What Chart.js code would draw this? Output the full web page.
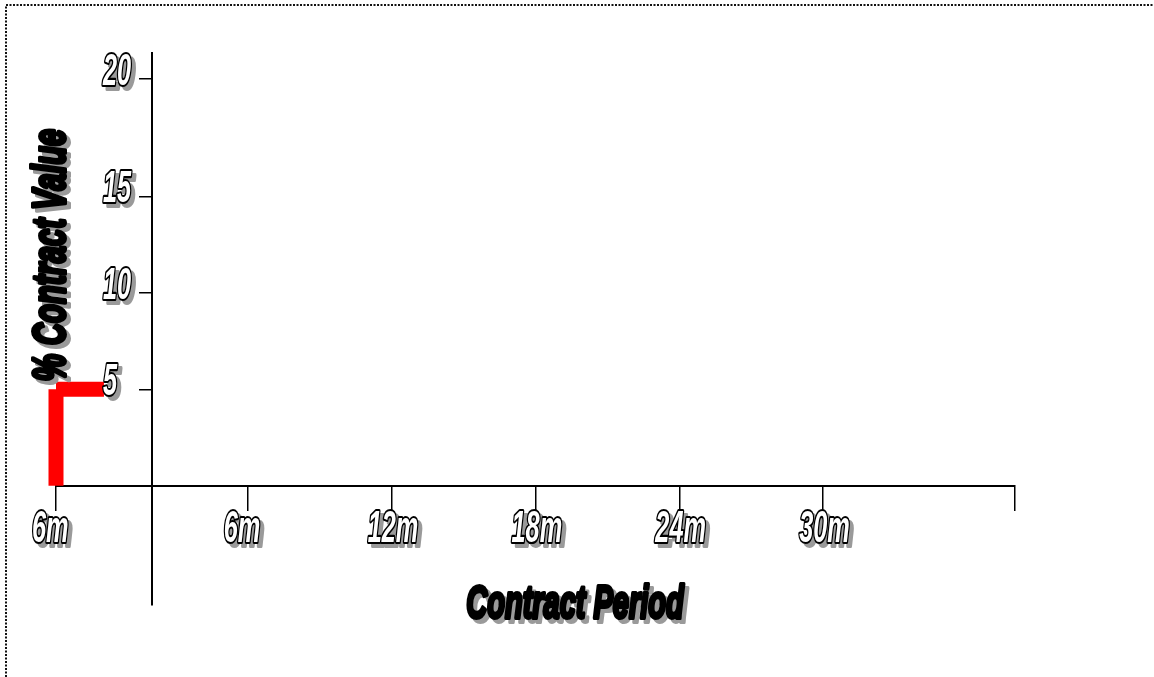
<!DOCTYPE html>
<html>
<head>
<meta charset="utf-8">
<script src="https://cdn.jsdelivr.net/npm/chart.js@4.4.0/dist/chart.umd.min.js"></script>
<style>
  html, body { margin: 0; padding: 0; background: #fff; }
  canvas { display: block; }
</style>
</head>
<body>
<canvas id="chart" width="1154" height="677"></canvas>
<script>
// Retention held: % of contract value against contract period (months)
const stepMonths  = [-4, -4, -2];
const stepPercent = [0, 5, 5];

// Axis ticks and their labels
const xTickValues = [-4, 4, 10, 16, 22, 28];
const xTickLabels = ['6m', '6m', '12m', '18m', '24m', '30m'];
const xAxisEnd = 36;
const yTickValues = [5, 10, 15, 21.08];
const yTickLabels = ['5', '10', '15', '20'];

const xTitle = 'Contract Period';
const yTitle = '% Contract Value';

const LABEL_FONT = '"Liberation Sans", Arial, sans-serif';

// Draws condensed bold-italic text with a grey drop shadow.
// outlined=true gives white letters with a black outline, otherwise solid black.
function wordArt(ctx, text, x, y, opts) {
  const { size, sx, align, rotate, outlined } = opts;
  const draw = (ox, oy, pass) => {
    ctx.save();
    ctx.translate(x + ox, y + oy);
    if (rotate) ctx.rotate(rotate);
    ctx.scale(sx, 1);
    ctx.font = 'italic bold ' + size + 'px ' + LABEL_FONT;
    ctx.textAlign = align;
    ctx.textBaseline = 'alphabetic';
    ctx.lineJoin = 'round';
    if (pass === 'shadow') {
      ctx.fillStyle = '#9a9a9a';
      ctx.strokeStyle = '#9a9a9a';
      ctx.lineWidth = 4;
      ctx.strokeText(text, 0, 0);
      ctx.fillText(text, 0, 0);
    } else if (outlined) {
      ctx.strokeStyle = '#000';
      ctx.lineWidth = 4.2;
      ctx.strokeText(text, 0, 0);
      ctx.fillStyle = '#fff';
      ctx.fillText(text, 0, 0);
    } else {
      ctx.strokeStyle = '#000';
      ctx.lineWidth = 4;
      ctx.strokeText(text, 0, 0);
      ctx.fillStyle = '#000';
      ctx.fillText(text, 0, 0);
    }
    ctx.restore();
  };
  draw(4, 4, 'shadow');
  draw(0, 0, 'main');
}

// Dotted frame along the top and left edges
const framePlugin = {
  id: 'frame',
  beforeDraw(chart) {
    const ctx = chart.ctx;
    ctx.save();
    ctx.fillStyle = '#fff';
    ctx.fillRect(0, 0, chart.width, chart.height);
    ctx.strokeStyle = '#111';
    ctx.lineWidth = 2;
    ctx.setLineDash([2, 1.5]);
    ctx.beginPath();
    ctx.moveTo(6, chart.height);
    ctx.lineTo(6, 5);
    ctx.lineTo(chart.width, 5);
    ctx.stroke();
    ctx.restore();
  }
};

// Tick labels and axis titles
const labelPlugin = {
  id: 'labels',
  afterDraw(chart) {
    const ctx = chart.ctx;
    const xs = chart.scales.x;
    const ys = chart.scales.y;
    const axisX = xs.getPixelForValue(0);
    const axisY = ys.getPixelForValue(0);

    xTickValues.forEach((v, i) => {
      const px = xs.getPixelForValue(v);
      wordArt(ctx, xTickLabels[i], px - 24, axisY + 56, { size: 44, sx: 0.575, align: 'left', outlined: true });
    });
    yTickValues.forEach((v, i) => {
      const py = ys.getPixelForValue(v);
      wordArt(ctx, yTickLabels[i], axisX - 49, py + 6, { size: 44, sx: 0.575, align: 'left', outlined: true });
    });

    wordArt(ctx, xTitle, 575, 618, { size: 46, sx: 0.63, align: 'center', outlined: false });
    wordArt(ctx, yTitle, 65, 255, { size: 46, sx: 0.67, align: 'center', rotate: -Math.PI / 2, outlined: false });
  }
};

// One dataset per straight run of the step line, so each run keeps square ends
const stepRuns = [];
for (let i = 0; i < stepMonths.length - 1; i++) {
  stepRuns.push({
    data: [
      { x: stepMonths[i], y: stepPercent[i] },
      { x: stepMonths[i + 1], y: stepPercent[i + 1] }
    ],
    borderColor: '#ff0000',
    borderWidth: 15,
    borderCapStyle: 'butt',
    pointRadius: 0,
    fill: false,
    tension: 0,
    clip: false
  });
}

new Chart(document.getElementById('chart'), {
  type: 'line',
  data: { datasets: stepRuns },
  options: {
    responsive: false,
    devicePixelRatio: 1,
    animation: false,
    events: [],
    layout: { padding: { left: 56, right: 139, top: 53, bottom: 72 } },
    plugins: { legend: { display: false }, tooltip: { enabled: false } },
    scales: {
      x: {
        type: 'linear',
        min: stepMonths[0],
        max: xAxisEnd,
        position: { y: 0 },
        afterBuildTicks: s => { s.ticks = xTickValues.concat([xAxisEnd]).map(v => ({ value: v })); },
        ticks: { display: false },
        grid: { drawOnChartArea: false, drawTicks: true, tickLength: 24, color: '#000', lineWidth: 1.5 },
        border: { display: true, color: '#000', width: 2 }
      },
      y: {
        type: 'linear',
        min: -6.18,
        max: 22.44,
        position: { x: 0 },
        afterBuildTicks: s => { s.ticks = yTickValues.map(v => ({ value: v })); },
        ticks: { display: false },
        grid: { drawOnChartArea: false, drawTicks: true, tickLength: 12, color: '#000', lineWidth: 1.5 },
        border: { display: true, color: '#000', width: 2 }
      }
    }
  },
  plugins: [framePlugin, labelPlugin]
});
</script>
</body>
</html>
